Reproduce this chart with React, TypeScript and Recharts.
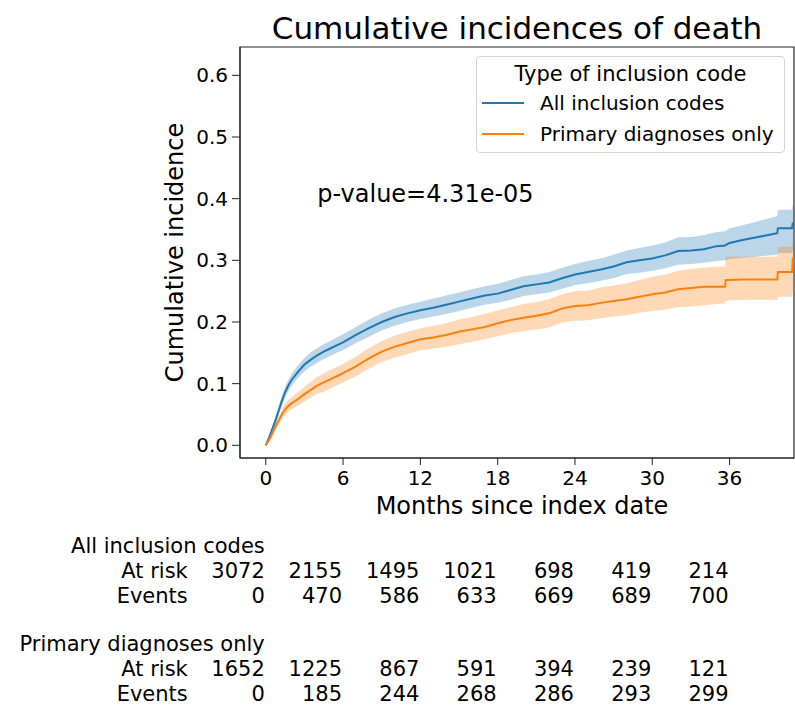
import React from "react";
import {
  Area,
  ComposedChart,
  Legend,
  Line,
  ReferenceArea,
  ReferenceDot,
  XAxis,
  YAxis,
} from "recharts";

const FONT = "'DejaVu Sans', sans-serif";
const BLUE = "#1f77b4";
const ORANGE = "#ff7f0e";

// time points (months) the curves were read at; tail pairs mark the last steps
const months = [
  0, 0.25, 0.5, 0.75, 1, 1.25, 1.5, 1.75, 2, 2.5, 3, 3.5, 4, 4.5, 5, 5.5, 6,
  7, 8, 9, 10, 11, 12, 13, 14, 15, 16, 17, 18, 19, 20, 21, 22, 23, 24, 25, 26,
  27, 28, 29, 30, 31, 32, 33, 34, 35,
  35.65, 35.7, 36, 37, 38, 39, 39.7, 39.75, 40.85, 40.9, 41,
];

// All inclusion codes
const allEst = [
  0, 0.012, 0.026, 0.04, 0.056, 0.072, 0.086, 0.097, 0.106, 0.119, 0.131, 0.139,
  0.146, 0.152, 0.157, 0.162, 0.167,
  0.179, 0.19, 0.2, 0.208, 0.214, 0.219, 0.223, 0.228, 0.233, 0.238, 0.243,
  0.246, 0.252, 0.258, 0.261, 0.264, 0.271, 0.277, 0.281, 0.285, 0.29, 0.297,
  0.3, 0.303, 0.308, 0.315, 0.316, 0.318, 0.323,
  0.324, 0.325, 0.328, 0.333, 0.337, 0.341, 0.344, 0.352, 0.352, 0.36, 0.36,
];
const allLow = [
  0, 0.009, 0.021, 0.034, 0.049, 0.064, 0.077, 0.088, 0.096, 0.109, 0.12, 0.128,
  0.134, 0.14, 0.145, 0.15, 0.154,
  0.166, 0.176, 0.186, 0.194, 0.2, 0.205, 0.209, 0.213, 0.218, 0.223, 0.228,
  0.231, 0.236, 0.242, 0.245, 0.248, 0.254, 0.26, 0.263, 0.267, 0.271, 0.278,
  0.28, 0.283, 0.287, 0.293, 0.294, 0.296, 0.299,
  0.3, 0.3, 0.302, 0.304, 0.306, 0.308, 0.309, 0.312, 0.312, 0.316, 0.316,
];
const allHigh = [
  0, 0.015, 0.031, 0.046, 0.063, 0.08, 0.095, 0.106, 0.116, 0.13, 0.142, 0.151,
  0.158, 0.164, 0.169, 0.175, 0.18,
  0.192, 0.204, 0.214, 0.222, 0.228, 0.233, 0.238, 0.243, 0.248, 0.253, 0.258,
  0.262, 0.268, 0.274, 0.277, 0.281, 0.288, 0.294, 0.299, 0.303, 0.309, 0.316,
  0.32, 0.324, 0.329, 0.337, 0.338, 0.341, 0.346,
  0.347, 0.348, 0.352, 0.357, 0.362, 0.368, 0.372, 0.382, 0.382, 0.39, 0.39,
];

// Primary diagnoses only
const primEst = [
  0, 0.008, 0.019, 0.03, 0.04, 0.05, 0.058, 0.064, 0.068, 0.075, 0.083, 0.09,
  0.097, 0.102, 0.107, 0.112, 0.117,
  0.128, 0.141, 0.152, 0.16, 0.166, 0.172, 0.175, 0.179, 0.184, 0.188, 0.192,
  0.198, 0.203, 0.207, 0.21, 0.214, 0.222, 0.226, 0.227, 0.231, 0.234, 0.237,
  0.241, 0.245, 0.248, 0.253, 0.255, 0.257, 0.257,
  0.257, 0.268, 0.268, 0.269, 0.269, 0.269, 0.269, 0.281, 0.281, 0.303, 0.303,
];
const primLow = [
  0, 0.005, 0.014, 0.024, 0.033, 0.042, 0.049, 0.055, 0.058, 0.064, 0.071, 0.077,
  0.083, 0.087, 0.092, 0.097, 0.102,
  0.112, 0.124, 0.135, 0.142, 0.148, 0.154, 0.157, 0.16, 0.164, 0.168, 0.172,
  0.177, 0.182, 0.185, 0.188, 0.191, 0.199, 0.202, 0.203, 0.206, 0.209, 0.211,
  0.215, 0.218, 0.22, 0.224, 0.225, 0.227, 0.229,
  0.23, 0.234, 0.235, 0.236, 0.236, 0.236, 0.236, 0.241, 0.241, 0.25, 0.25,
];
const primHigh = [
  0, 0.011, 0.024, 0.036, 0.047, 0.058, 0.067, 0.074, 0.078, 0.086, 0.095, 0.103,
  0.111, 0.117, 0.122, 0.127, 0.132,
  0.144, 0.158, 0.169, 0.178, 0.184, 0.19, 0.194, 0.198, 0.204, 0.208, 0.213,
  0.219, 0.224, 0.229, 0.232, 0.237, 0.245, 0.25, 0.251, 0.256, 0.259, 0.263,
  0.268, 0.273, 0.277, 0.283, 0.286, 0.288, 0.29,
  0.29, 0.306, 0.306, 0.306, 0.306, 0.306, 0.306, 0.322, 0.322, 0.33, 0.33,
];

const xTicks = [0, 6, 12, 18, 24, 30, 36];
const yTicks = [0, 0.1, 0.2, 0.3, 0.4, 0.5, 0.6];
const X_DOMAIN: [number, number] = [-2, 41];
const Y_DOMAIN: [number, number] = [-0.0206, 0.646];

// at-risk table
const allAtRisk = [3072, 2155, 1495, 1021, 698, 419, 214];
const allEvents = [0, 470, 586, 633, 669, 689, 700];
const primAtRisk = [1652, 1225, 867, 591, 394, 239, 121];
const primEvents = [0, 185, 244, 268, 286, 293, 299];

const data = months.map((t, i) => ({
  t,
  all: allEst[i],
  allBand: [allLow[i], allHigh[i]],
  prim: primEst[i],
  primBand: [primLow[i], primHigh[i]],
}));

type Row = {
  id: string;
  height: number;
  ticks: number[];
  values: (string | number)[];
  label?: string;
};

// ids sort in display order (bottom axes are stacked by id)
const tableRows: Row[] = [
  { id: "a1", height: 25, ticks: [0], values: ["All inclusion codes"] },
  { id: "a2", height: 25, ticks: xTicks, values: allAtRisk, label: "At risk" },
  { id: "a3", height: 25, ticks: xTicks, values: allEvents, label: "Events" },
  { id: "a4", height: 48, ticks: [0], values: ["Primary diagnoses only"] },
  { id: "a5", height: 25, ticks: xTicks, values: primAtRisk, label: "At risk" },
  { id: "a6", height: 25, ticks: xTicks, values: primEvents, label: "Events" },
];

function rowTick(row: Row) {
  return (props: any) => {
    const { x, y, payload } = props;
    const i = row.ticks.indexOf(payload.value);
    const base = y + row.height - 2;
    return (
      <g>
        <text x={x - 1} y={base} textAnchor="end" fontSize={21} fill="#000">
          {row.values[i]}
        </text>
        {row.label && i === 0 && (
          <text x={x - 78} y={base} textAnchor="end" fontSize={21} fill="#000">
            {row.label}
          </text>
        )}
      </g>
    );
  };
}

function LegendBox(props: any) {
  const items = (props.payload || []).filter((p: any) => p.type !== "none");
  return (
    <div
      style={{
        width: 309,
        height: 97,
        boxSizing: "border-box",
        border: "1px solid #d4d4d4",
        borderRadius: 4,
        background: "rgba(255,255,255,0.8)",
        fontFamily: FONT,
        color: "#000",
      }}
    >
      <div
        style={{
          textAlign: "center",
          fontSize: 21,
          lineHeight: "21px",
          marginTop: 7,
        }}
      >
        Type of inclusion code
      </div>
      <div style={{ marginTop: 2 }}>
        {items.map((p: any) => (
          <div
            key={p.value}
            style={{ display: "flex", alignItems: "center", height: 31 }}
          >
            <div
              style={{
                marginLeft: 5,
                width: 42,
                height: 2,
                background: p.color,
              }}
            />
            <span style={{ marginLeft: 16, fontSize: 20 }}>{p.value}</span>
          </div>
        ))}
      </div>
    </div>
  );
}

export default function App() {
  return (
    <div
      style={{
        position: "absolute",
        left: 0,
        top: 0,
        width: 795,
        height: 705,
        overflow: "hidden",
        background: "#fff",
        fontFamily: FONT,
      }}
    >
      <div
        style={{
          position: "absolute",
          left: 240,
          width: 554,
          top: 13,
          textAlign: "center",
          fontSize: 31,
          lineHeight: "30px",
          color: "#000",
          zIndex: 2,
        }}
      >
        Cumulative incidences of death
      </div>
      <ComposedChart
        width={795}
        height={705}
        data={data}
        margin={{ top: 47, right: 1, bottom: 2, left: 0 }}
      >
        <XAxis
          dataKey="t"
          type="number"
          domain={X_DOMAIN}
          allowDataOverflow
          ticks={xTicks}
          interval={0}
          height={72}
          tickSize={7}
          tickMargin={6}
          stroke="#222"
          tick={{ fontSize: 20, fill: "#000" }}
          label={{
            content: (p: any) => (
              <text
                x={p.viewBox.x + p.viewBox.width / 2 + 5}
                y={p.viewBox.y + 56}
                textAnchor="middle"
                fontSize={24}
                fill="#000"
              >
                Months since index date
              </text>
            ),
          }}
        />
        {tableRows.map((row) => (
          <XAxis
            key={row.id}
            xAxisId={row.id}
            dataKey="t"
            type="number"
            domain={X_DOMAIN}
            allowDataOverflow
            ticks={row.ticks}
            interval={0}
            height={row.height}
            tickSize={0}
            tickMargin={0}
            axisLine={false}
            tickLine={false}
            tick={rowTick(row)}
          />
        ))}
        <YAxis
          type="number"
          domain={Y_DOMAIN}
          allowDataOverflow
          ticks={yTicks}
          interval={0}
          width={240}
          tickSize={8}
          tickMargin={4}
          stroke="#222"
          tick={{ fontSize: 20, fill: "#000" }}
          tickFormatter={(v: number) => v.toFixed(1)}
          label={{
            content: (p: any) => {
              const cy = p.viewBox.y + p.viewBox.height / 2;
              return (
                <text
                  x={175}
                  y={cy}
                  transform={`rotate(-90 175 ${cy})`}
                  textAnchor="middle"
                  dominantBaseline="central"
                  fontSize={24}
                  fill="#000"
                >
                  Cumulative incidence
                </text>
              );
            },
          }}
        />
        <ReferenceArea
          x1={X_DOMAIN[0]}
          x2={X_DOMAIN[1]}
          y1={Y_DOMAIN[0]}
          y2={Y_DOMAIN[1]}
          fill="none"
          stroke="#222"
          strokeWidth={1.2}
        />
        <Area
          type="linear"
          dataKey="allBand"
          stroke="none"
          fill={BLUE}
          fillOpacity={0.3}
          legendType="none"
          isAnimationActive={false}
        />
        <Area
          type="linear"
          dataKey="primBand"
          stroke="none"
          fill={ORANGE}
          fillOpacity={0.3}
          legendType="none"
          isAnimationActive={false}
        />
        <Line
          type="linear"
          dataKey="all"
          name="All inclusion codes"
          stroke={BLUE}
          strokeWidth={2}
          dot={false}
          isAnimationActive={false}
        />
        <Line
          type="linear"
          dataKey="prim"
          name="Primary diagnoses only"
          stroke={ORANGE}
          strokeWidth={2}
          dot={false}
          isAnimationActive={false}
        />
        <ReferenceDot
          x={4}
          y={0.395}
          r={1}
          shape={(p: any) => (
            <text x={p.cx} y={p.cy} fontSize={24} fill="#000">
              p-value=4.31e-05
            </text>
          )}
        />
        <Legend
          layout="vertical"
          verticalAlign="middle"
          align="center"
          wrapperStyle={{ left: 476, top: 56, width: 309, height: 97 }}
          content={<LegendBox />}
        />
      </ComposedChart>
    </div>
  );
}
